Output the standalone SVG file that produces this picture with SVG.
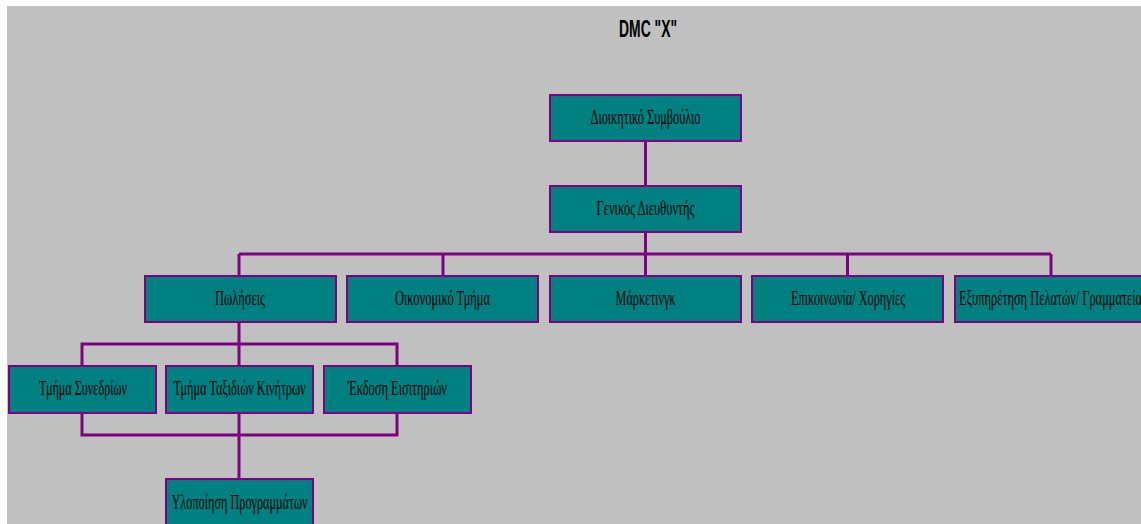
<svg xmlns="http://www.w3.org/2000/svg" width="1141" height="524" viewBox="0 0 1141 524">
<style>
.node rect{fill:#008080;stroke:#800080;stroke-width:2}
.node text{font-family:"Liberation Serif","Times New Roman",serif;font-size:22px;fill:#000;text-anchor:middle}
.conn line,.conn polyline{stroke:#800080;stroke-width:3;fill:none}
.title{font-family:"Liberation Sans",Arial,sans-serif;font-weight:bold;font-size:23px;fill:#000;text-anchor:middle}
</style>
<rect x="0" y="0" width="1141" height="524" fill="#fff"/>
<rect x="7" y="6" width="1134" height="518" fill="#c0c0c0"/>
<text class="title" x="648" y="37" textLength="58" lengthAdjust="spacingAndGlyphs">DMC "X"</text>
<g id="connectors" class="conn">
<line x1="645.5" y1="141" x2="645.5" y2="186"/>
<line x1="645.5" y1="232" x2="645.5" y2="254"/>
<line x1="239" y1="254" x2="1051" y2="254"/>
<line x1="239" y1="254" x2="239" y2="276"/>
<line x1="443" y1="254" x2="443" y2="276"/>
<line x1="645.5" y1="254" x2="645.5" y2="276"/>
<line x1="847.5" y1="254" x2="847.5" y2="276"/>
<line x1="1051" y1="254" x2="1051" y2="276"/>
<line x1="239" y1="322" x2="239" y2="366"/>
<polyline points="82,366 82,344 397,344 397,366"/>
<polyline points="82,413 82,435 397,435 397,413"/>
<line x1="239" y1="413" x2="239" y2="479"/>
</g>
<g id="n1" class="node"><rect x="550" y="95" width="191" height="46"/><text x="645.5" y="124" textLength="110" lengthAdjust="spacingAndGlyphs">Διοικητικό Συμβούλιο</text></g>
<g id="n2" class="node"><rect x="550" y="186" width="191" height="46"/><text x="645.5" y="215" textLength="98" lengthAdjust="spacingAndGlyphs">Γενικός Διευθυντής</text></g>
<g id="n3" class="node"><rect x="145" y="276" width="191" height="46"/><text x="240" y="305" textLength="50" lengthAdjust="spacingAndGlyphs">Πωλήσεις</text></g>
<g id="n4" class="node"><rect x="347" y="276" width="191" height="46"/><text x="442.5" y="305" textLength="95" lengthAdjust="spacingAndGlyphs">Οικονομικό Τμήμα</text></g>
<g id="n5" class="node"><rect x="550" y="276" width="191" height="46"/><text x="645.5" y="305" textLength="60" lengthAdjust="spacingAndGlyphs">Μάρκετινγκ</text></g>
<g id="n6" class="node"><rect x="752" y="276" width="191" height="46"/><text x="848" y="305" textLength="114" lengthAdjust="spacingAndGlyphs">Επικοινωνία/ Χορηγίες</text></g>
<g id="n7" class="node"><rect x="955" y="276" width="191" height="46"/><text x="1050.5" y="305" textLength="183" lengthAdjust="spacingAndGlyphs">Εξυπηρέτηση Πελατών/ Γραμματεία</text></g>
<g id="n8" class="node"><rect x="9" y="366" width="147" height="47"/><text x="83" y="395" textLength="88" lengthAdjust="spacingAndGlyphs">Τμήμα Συνεδρίων</text></g>
<g id="n9" class="node"><rect x="166" y="366" width="147" height="47"/><text x="239.5" y="395" textLength="132" lengthAdjust="spacingAndGlyphs">Τμήμα Ταξιδιών Κινήτρων</text></g>
<g id="n10" class="node"><rect x="324" y="366" width="147" height="47"/><text x="397.5" y="395" textLength="99" lengthAdjust="spacingAndGlyphs">Έκδοση Εισιτηριών</text></g>
<g id="n11" class="node"><rect x="166" y="479" width="147" height="50"/><text x="239.5" y="509" textLength="136" lengthAdjust="spacingAndGlyphs">Υλοποίηση Προγραμμάτων</text></g>
</svg>
